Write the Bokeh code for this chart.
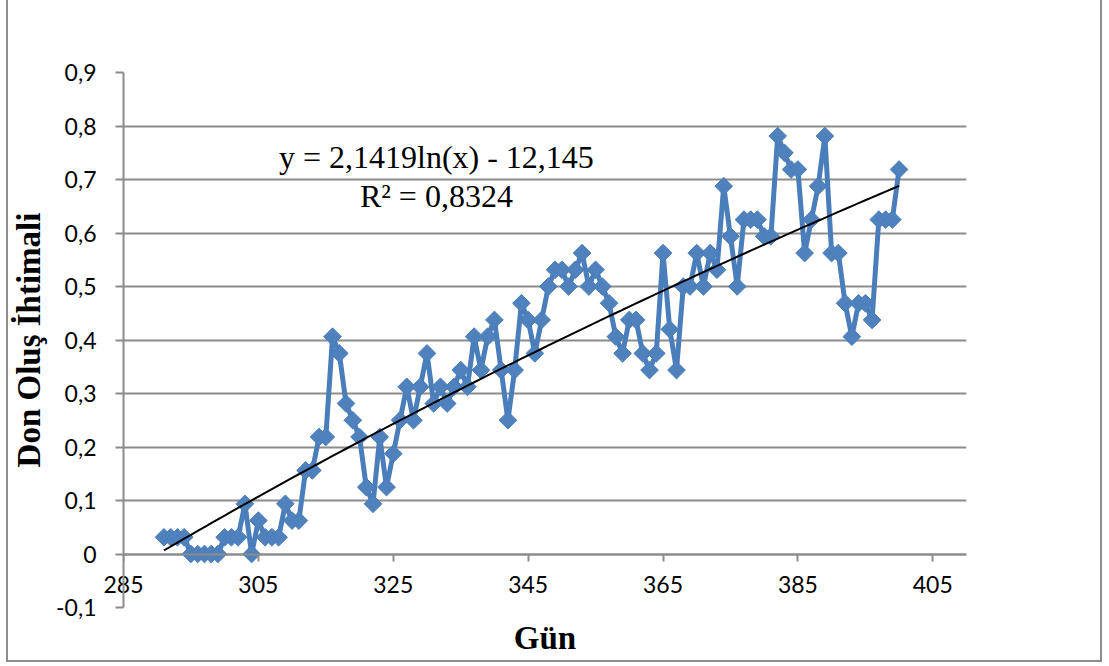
import numpy as np
from bokeh.plotting import figure
from bokeh.models import (Range1d, FixedTicker, CustomJSTickFormatter, Label,
                          LinearAxis)
from bokeh.embed import file_html
from bokeh.resources import INLINE

# ---- data ----
days = list(range(291, 401))
probability = [
    0.03125, 0.03125, 0.03125, 0.03125, 0, 0, 0, 0, 0, 0.03125,
    0.03125, 0.03125, 0.09375, 0, 0.0625, 0.03125, 0.03125, 0.03125, 0.09375, 0.0625,
    0.0625, 0.15625, 0.15625, 0.21875, 0.21875, 0.40625, 0.375, 0.28125, 0.25, 0.21875,
    0.125, 0.09375, 0.21875, 0.125, 0.1875, 0.25, 0.3125, 0.25, 0.3125, 0.375,
    0.28125, 0.3125, 0.28125, 0.3125, 0.34375, 0.3125, 0.40625, 0.34375, 0.40625, 0.4375,
    0.34375, 0.25, 0.34375, 0.46875, 0.4375, 0.375, 0.4375, 0.5, 0.53125, 0.53125,
    0.5, 0.53125, 0.5625, 0.5, 0.53125, 0.5, 0.46875, 0.40625, 0.375, 0.4375,
    0.4375, 0.375, 0.34375, 0.375, 0.5625, 0.42, 0.34375, 0.5, 0.5, 0.5625,
    0.5, 0.5625, 0.53125, 0.6875, 0.59375, 0.5, 0.625, 0.625, 0.625, 0.59375,
    0.59375, 0.78125, 0.75, 0.71875, 0.71875, 0.5625, 0.625, 0.6875, 0.78125, 0.5625,
    0.5625, 0.46875, 0.40625, 0.46875, 0.46875, 0.4375, 0.625, 0.625, 0.625, 0.71875,
]
x_ticks = [285, 305, 325, 345, 365, 385, 405]
y_ticks = [-0.1, 0.0, 0.1, 0.2, 0.3, 0.4, 0.5, 0.6, 0.7, 0.8, 0.9]
x_min, x_max = 285, 410
y_min, y_max = -0.1, 0.9
trend_a = 2.1419
trend_b = -12.145
eq_text = "y = 2,1419ln(x) - 12,145"
r2_text = "R\u00b2 = 0,8324"
x_title = "Gün"
y_title = "Don Oluş İhtimali"

GRID = "#8c8c8c"
BLUE_LINE = "#4A7EBB"
BLUE_FILL = "#4F81BD"
TICK_FONT = "Lato"
TICK_SIZE = "23px"

p = figure(width=1096, height=662,
           x_range=Range1d(x_min, x_max), y_range=Range1d(y_min, y_max),
           output_backend="svg", toolbar_location=None,
           min_border_left=114, min_border_right=138,
           min_border_top=72, min_border_bottom=55)
p.styles = {"margin-left": "6px",
            "border-left": "2px solid #8d8d8d",
            "border-right": "2px solid #8d8d8d",
            "border-bottom": "2px solid #8d8d8d"}
p.outline_line_color = None
p.background_fill_color = "white"
p.border_fill_color = "white"

# y axis
p.yaxis.ticker = FixedTicker(ticks=y_ticks)
p.yaxis.formatter = CustomJSTickFormatter(code="""
    if (Math.abs(tick) < 1e-9) { return "0"; }
    return tick.toFixed(1).replace('.', ',');
""")
p.yaxis.major_tick_out = 8
p.yaxis.major_tick_in = 0
p.yaxis.minor_tick_out = 0
p.yaxis.minor_tick_in = 0
p.yaxis.major_tick_line_color = GRID
p.yaxis.major_tick_line_width = 2
p.yaxis.axis_line_color = GRID
p.yaxis.axis_line_width = 2
p.yaxis.major_label_standoff = 19
p.yaxis.major_label_text_font = TICK_FONT
p.yaxis.major_label_text_font_size = TICK_SIZE
p.yaxis.major_label_text_color = "black"
p.yaxis.axis_label = y_title
p.yaxis.axis_label_text_font = "Liberation Serif"
p.yaxis.axis_label_text_font_style = "bold"
p.yaxis.axis_label_text_font_size = "33px"
p.yaxis.axis_label_text_color = "black"
p.yaxis.axis_label_standoff = 6

# x axis line + ticks crossing at y = 0 (labels drawn by a second axis)
p.xaxis.fixed_location = 0
p.xaxis.ticker = FixedTicker(ticks=x_ticks)
p.xaxis.major_tick_out = 7
p.xaxis.major_tick_in = 0
p.xaxis.minor_tick_out = 0
p.xaxis.minor_tick_in = 0
p.xaxis.major_tick_line_color = GRID
p.xaxis.major_tick_line_width = 2
p.xaxis.axis_line_color = GRID
p.xaxis.axis_line_width = 2
p.xaxis.major_label_text_font_size = "0px"
p.xaxis.major_label_text_color = None

# labels-only axis at the bottom, pulled up between 0 and -0.1, carrying the title
lab_axis = LinearAxis(ticker=FixedTicker(ticks=x_ticks))
lab_axis.axis_line_color = None
lab_axis.major_tick_line_color = None
lab_axis.minor_tick_line_color = None
lab_axis.major_tick_out = 0
lab_axis.major_tick_in = 0
lab_axis.minor_tick_out = 0
lab_axis.minor_tick_in = 0
lab_axis.major_label_standoff = -32
lab_axis.major_label_text_font = TICK_FONT
lab_axis.major_label_text_font_size = TICK_SIZE
lab_axis.major_label_text_color = "black"
lab_axis.axis_label = x_title
lab_axis.axis_label_text_font = "Liberation Serif"
lab_axis.axis_label_text_font_style = "bold"
lab_axis.axis_label_text_font_size = "33px"
lab_axis.axis_label_text_color = "black"
lab_axis.axis_label_standoff = 24
p.add_layout(lab_axis, "below")

# grid
p.xgrid.visible = False
p.ygrid.ticker = FixedTicker(ticks=y_ticks)
p.ygrid.grid_line_color = GRID
p.ygrid.grid_line_width = 2

# series
p.line(days, probability, line_color=BLUE_LINE, line_width=5)
p.scatter(days, probability, marker="square", angle=np.pi / 4, size=12.5,
          fill_color=BLUE_FILL, line_color=BLUE_LINE, line_width=1)

# logarithmic trendline from the displayed equation
tx = np.array(days, dtype=float)
ty = trend_a * np.log(tx) + trend_b
p.line(tx, ty, line_color="black", line_width=2)

p.add_layout(Label(x=331.4, y=0.742, text=eq_text, text_align="center",
                   text_baseline="alphabetic", text_font="Liberation Serif",
                   text_font_size="32px", text_color="black"))
p.add_layout(Label(x=331.4, y=0.669, text=r2_text, text_align="center",
                   text_baseline="alphabetic", text_font="Liberation Serif",
                   text_font_size="32px", text_color="black"))

open("out.html", "w").write(file_html(p, INLINE))
